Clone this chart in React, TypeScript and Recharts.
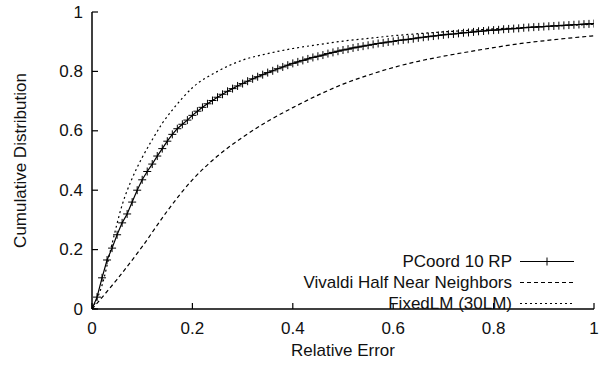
import { Legend, Line, LineChart, XAxis, YAxis } from 'recharts';

const TICKS = [0, 0.2, 0.4, 0.6, 0.8, 1];

const PCOORD_X = [
  0, 0.01, 0.02, 0.03, 0.04, 0.05, 0.06, 0.07, 0.08, 0.09,
  0.1, 0.11, 0.12, 0.13, 0.14, 0.15, 0.16, 0.17, 0.18, 0.19,
  0.2, 0.21, 0.22, 0.23, 0.24, 0.25, 0.26, 0.27, 0.28, 0.29,
  0.3, 0.31, 0.32, 0.33, 0.34, 0.35, 0.36, 0.37, 0.38, 0.39,
  0.4, 0.41, 0.42, 0.43, 0.44, 0.45, 0.46, 0.47, 0.48, 0.49,
  0.5, 0.51, 0.52, 0.53, 0.54, 0.55, 0.56, 0.57, 0.58, 0.59,
  0.6, 0.61, 0.62, 0.63, 0.64, 0.65, 0.66, 0.67, 0.68, 0.69,
  0.7, 0.71, 0.72, 0.73, 0.74, 0.75, 0.76, 0.77, 0.78, 0.79,
  0.8, 0.81, 0.82, 0.83, 0.84, 0.85, 0.86, 0.87, 0.88, 0.89,
  0.9, 0.91, 0.92, 0.93, 0.94, 0.95, 0.96, 0.97, 0.98, 0.99,
  1,
];
const PCOORD_Y = [
  0, 0.04, 0.105, 0.165, 0.205, 0.25, 0.29, 0.32, 0.36, 0.4,
  0.435, 0.463, 0.488, 0.515, 0.54, 0.565, 0.588, 0.607, 0.622, 0.636,
  0.652, 0.666, 0.679, 0.691, 0.702, 0.713, 0.723, 0.733, 0.742, 0.751,
  0.759, 0.767, 0.775, 0.782, 0.789, 0.796, 0.802, 0.809, 0.815, 0.821,
  0.827, 0.832, 0.837, 0.842, 0.847, 0.851, 0.855, 0.86, 0.864, 0.868,
  0.872, 0.875, 0.879, 0.882, 0.885, 0.888, 0.891, 0.894, 0.896, 0.899,
  0.901, 0.904, 0.906, 0.908, 0.91, 0.913, 0.915, 0.917, 0.919, 0.921,
  0.923, 0.925, 0.926, 0.928, 0.93, 0.931, 0.933, 0.935, 0.936, 0.938,
  0.939, 0.94, 0.942, 0.943, 0.944, 0.945, 0.947, 0.948, 0.949, 0.95,
  0.951, 0.952, 0.953, 0.954, 0.955, 0.956, 0.957, 0.958, 0.959, 0.96,
  0.961,
];

const VIVALDI_X = [0, 0.05, 0.1, 0.15, 0.2, 0.25, 0.3, 0.35, 0.4, 0.45, 0.5, 0.55, 0.6, 0.65, 0.7, 0.75, 0.8, 0.85, 0.9, 0.95, 1];
const VIVALDI_Y = [0, 0.1, 0.21, 0.33, 0.435, 0.515, 0.578, 0.632, 0.678, 0.72, 0.757, 0.787, 0.813, 0.834, 0.851, 0.866, 0.88, 0.893, 0.903, 0.912, 0.92];

const FIXEDLM_X = [0, 0.02, 0.04, 0.06, 0.08, 0.1, 0.12, 0.14, 0.16, 0.18, 0.2, 0.25, 0.3, 0.35, 0.4, 0.45, 0.5, 0.55, 0.6, 0.65, 0.7, 0.75, 0.8, 0.85, 0.9, 0.95, 1];
const FIXEDLM_Y = [0, 0.08, 0.22, 0.35, 0.44, 0.51, 0.57, 0.625, 0.67, 0.71, 0.745, 0.8, 0.838, 0.86, 0.877, 0.89, 0.902, 0.911, 0.92, 0.927, 0.933, 0.938, 0.943, 0.947, 0.951, 0.955, 0.959];

const SERIES_NAMES = ['PCoord 10 RP', 'Vivaldi Half Near Neighbors', 'FixedLM (30LM)'];

const toPoints = (xs: number[], ys: number[]) => xs.map((x, i) => ({ x, y: ys[i] }));

const pcoordData = toPoints(PCOORD_X, PCOORD_Y);
const vivaldiData = toPoints(VIVALDI_X, VIVALDI_Y);
const fixedData = toPoints(FIXEDLM_X, FIXEDLM_Y);

const FONT = '"Liberation Sans", Arial, sans-serif';
const DASHES: Record<string, string | undefined> = {
  'PCoord 10 RP': undefined,
  'Vivaldi Half Near Neighbors': '4 3',
  'FixedLM (30LM)': '2 3',
};

const fmt = (v: number) => String(v);

function Cross(props: any) {
  const { cx, cy } = props;
  if (cx == null || cy == null) return <g />;
  return (
    <g>
      <line x1={cx - 4} x2={cx + 4} y1={cy} y2={cy} stroke="#000" strokeWidth={1} />
      <line x1={cx} x2={cx} y1={cy - 4} y2={cy + 4} stroke="#000" strokeWidth={1} />
    </g>
  );
}

function BottomTick({ x, y, payload }: any) {
  return (
    <g>
      <line x1={x} x2={x} y1={y} y2={y - 6} stroke="#000" strokeWidth={1.2} />
      <text x={x} y={y + 19} textAnchor="middle" dominantBaseline="central" fontSize={17} fontFamily={FONT} fill="#111">
        {fmt(payload.value)}
      </text>
    </g>
  );
}

function LeftTick({ x, y, payload }: any) {
  return (
    <g>
      <line x1={x} x2={x + 6} y1={y} y2={y} stroke="#000" strokeWidth={1.2} />
      <text x={x - 9} y={y} textAnchor="end" dominantBaseline="central" fontSize={17} fontFamily={FONT} fill="#111">
        {fmt(payload.value)}
      </text>
    </g>
  );
}

function TopTick({ x, y }: any) {
  return <line x1={x} x2={x} y1={y} y2={y + 6} stroke="#000" strokeWidth={1.2} />;
}

function RightTick({ x, y }: any) {
  return <line x1={x} x2={x - 6} y1={y} y2={y} stroke="#000" strokeWidth={1.2} />;
}

function LegendBox() {
  return (
    <div style={{ fontFamily: FONT, fontSize: 17, color: '#111' }}>
      {SERIES_NAMES.map((name) => {
        const dash = DASHES[name];
        return (
          <div key={name} style={{ display: 'flex', justifyContent: 'flex-end', alignItems: 'center', height: 21 }}>
            <span>{name}</span>
            <svg width={54} height={21} style={{ marginLeft: 8 }}>
              <line x1={0} x2={54} y1={10.5} y2={10.5} stroke="#000" strokeWidth={1.2} strokeDasharray={dash} />
              {dash === undefined && <Cross cx={27} cy={10.5} />}
            </svg>
          </div>
        );
      })}
    </div>
  );
}

export default function App() {
  return (
    <div style={{ position: 'absolute', left: 0, top: 0, background: '#fff' }}>
      <LineChart width={600} height={366} margin={{ top: 12, right: 6, bottom: 7, left: 0 }}>
        <XAxis
          xAxisId="b"
          dataKey="x"
          type="number"
          domain={[0, 1]}
          ticks={TICKS}
          allowDataOverflow
          height={50}
          tickSize={0}
          tickMargin={0}
          tickLine={false}
          tick={<BottomTick />}
          axisLine={{ stroke: '#000', strokeWidth: 1.5 }}
          label={({ viewBox }: any) => (
            <text
              x={viewBox.x + viewBox.width / 2}
              y={viewBox.y + 41}
              textAnchor="middle"
              dominantBaseline="central"
              fontSize={17}
              fontFamily={FONT}
              fill="#111"
            >
              Relative Error
            </text>
          )}
        />
        <XAxis
          xAxisId="t"
          orientation="top"
          dataKey="x"
          type="number"
          domain={[0, 1]}
          ticks={TICKS}
          allowDataOverflow
          height={0}
          tickSize={0}
          tickMargin={0}
          tickLine={false}
          tick={<TopTick />}
          axisLine={{ stroke: '#000', strokeWidth: 1.5 }}
        />
        <YAxis
          yAxisId="l"
          type="number"
          domain={[0, 1]}
          ticks={TICKS}
          allowDataOverflow
          width={92}
          tickSize={0}
          tickMargin={0}
          tickLine={false}
          tick={<LeftTick />}
          axisLine={{ stroke: '#000', strokeWidth: 1.5 }}
          label={({ viewBox }: any) => {
            const cx = viewBox.x + 20;
            const cy = viewBox.y + viewBox.height / 2;
            return (
              <text
                x={cx}
                y={cy}
                transform={`rotate(-90 ${cx} ${cy})`}
                textAnchor="middle"
                dominantBaseline="central"
                fontSize={17}
                fontFamily={FONT}
                fill="#111"
              >
                Cumulative Distribution
              </text>
            );
          }}
        />
        <YAxis
          yAxisId="r"
          orientation="right"
          type="number"
          domain={[0, 1]}
          ticks={TICKS}
          allowDataOverflow
          width={0}
          tickSize={0}
          tickMargin={0}
          tickLine={false}
          tick={<RightTick />}
          axisLine={{ stroke: '#000', strokeWidth: 1.5 }}
        />
        <Legend
          layout="vertical"
          align="center"
          verticalAlign="middle"
          content={<LegendBox />}
          wrapperStyle={{ position: 'absolute', left: 0, top: 251, width: 574 }}
        />
        <Line
          xAxisId="b"
          yAxisId="l"
          data={pcoordData}
          dataKey="y"
          name={SERIES_NAMES[0]}
          stroke="#000"
          strokeWidth={1.2}
          dot={(p: any) => <Cross key={p.index} cx={p.cx} cy={p.cy} />}
          activeDot={false}
          type="linear"
          isAnimationActive={false}
        />
        <Line
          xAxisId="b"
          yAxisId="l"
          data={vivaldiData}
          dataKey="y"
          name={SERIES_NAMES[1]}
          stroke="#000"
          strokeWidth={1.2}
          strokeDasharray="4 3"
          dot={false}
          activeDot={false}
          type="monotone"
          isAnimationActive={false}
        />
        <Line
          xAxisId="b"
          yAxisId="l"
          data={fixedData}
          dataKey="y"
          name={SERIES_NAMES[2]}
          stroke="#000"
          strokeWidth={1.2}
          strokeDasharray="2 3"
          dot={false}
          activeDot={false}
          type="monotone"
          isAnimationActive={false}
        />
      </LineChart>
    </div>
  );
}
